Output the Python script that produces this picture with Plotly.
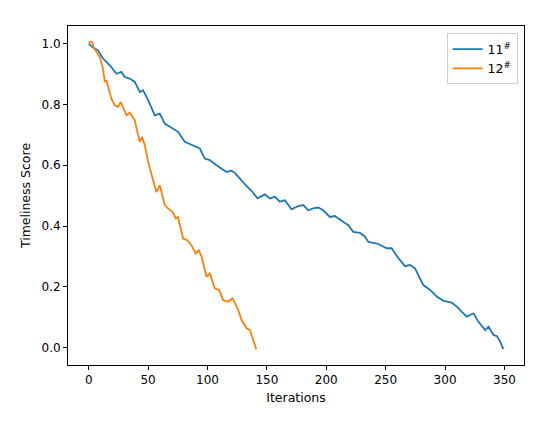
import plotly.graph_objects as go

# Series 11#
x11 = [0, 3.6, 7.8, 12, 14.9, 19, 23.3, 27.5, 30.3, 34.5, 38.8, 43, 45.7, 50, 55.6, 59.8, 64, 71, 75.2,
       80.9, 86.5, 93.5, 97.7, 101.9, 107.6, 111.8, 116, 120.2, 123, 127.3, 132.9, 137.1, 142.1, 148.3,
       152.5, 156.7, 160.9, 165.1, 170.8, 176.4, 180.6, 184.8, 189, 193.2, 197.4, 203, 207.2, 214.2,
       218.5, 222.7, 228.3, 232.6, 235.4, 239.6, 243.8, 250.8, 255, 260.7, 266.3, 270.5, 274.7, 281.7,
       287.4, 293, 298.6, 305.6, 309.9, 314.1, 318.3, 323.9, 328.1, 333.8, 336.6, 340.8, 343.6, 346.4, 349]
y11 = [1.0, 0.987, 0.978, 0.951, 0.94, 0.923, 0.901, 0.907, 0.89, 0.885, 0.874, 0.841, 0.847, 0.814,
       0.764, 0.77, 0.737, 0.721, 0.71, 0.677, 0.666, 0.655, 0.622, 0.617, 0.60, 0.589, 0.578, 0.582,
       0.575, 0.556, 0.531, 0.516, 0.491, 0.504, 0.491, 0.496, 0.48, 0.485, 0.455, 0.466, 0.469, 0.452,
       0.458, 0.461, 0.452, 0.43, 0.433, 0.414, 0.403, 0.381, 0.378, 0.365, 0.348, 0.345, 0.341, 0.327,
       0.327, 0.294, 0.268, 0.272, 0.261, 0.206, 0.19, 0.168, 0.154, 0.148, 0.135, 0.118, 0.102, 0.113,
       0.085, 0.058, 0.069, 0.042, 0.038, 0.02, -0.005]

# Series 12#
x12 = [0, 3, 4.5, 6.5, 9.3, 12, 13.5, 14.9, 18.5, 19, 21.9, 24.7, 27, 28.9, 31.8, 34.5, 36, 38.8, 41.5,
       43, 44.9, 47.2, 50, 52.8, 54.2, 57, 59.8, 62.6, 64, 66.8, 70.5, 73.3, 75.2, 79.4, 82.8, 86.5, 90.1,
       92.7, 95, 99.2, 101.9, 106.1, 109.8, 113.1, 117.4, 121.1, 123, 125.9, 128.7, 132.9, 135.7, 138.5, 141]
y12 = [1.005, 1.005, 0.985, 0.972, 0.956, 0.918, 0.874, 0.88, 0.83, 0.82, 0.797, 0.792, 0.808, 0.792,
       0.764, 0.773, 0.764, 0.748, 0.699, 0.677, 0.693, 0.666, 0.611, 0.567, 0.551, 0.512, 0.534, 0.491,
       0.469, 0.458, 0.447, 0.425, 0.43, 0.359, 0.354, 0.337, 0.31, 0.321, 0.299, 0.233, 0.244, 0.195,
       0.19, 0.157, 0.151, 0.162, 0.146, 0.124, 0.091, 0.064, 0.058, 0.025, -0.005]

series_names = ["11<sup>#</sup>", "12<sup>#</sup>"]
colors = ["#1f77b4", "#ff7f0e"]

fig = go.Figure()
fig.add_trace(go.Scatter(x=x11, y=y11, mode="lines", name=series_names[0],
                         line=dict(color=colors[0], width=1.8)))
fig.add_trace(go.Scatter(x=x12, y=y12, mode="lines", name=series_names[1],
                         line=dict(color=colors[1], width=1.8)))

axis_common = dict(showgrid=False, zeroline=False, showline=True, linecolor="black", linewidth=1,
                   mirror=True, ticks="outside", ticklen=4, tickcolor="black", automargin=False,
                   tickfont=dict(family="DejaVu Sans", size=12, color="black"))

fig.update_layout(
    width=550, height=425,
    margin=dict(l=68, r=26, t=26, b=60, autoexpand=False),
    paper_bgcolor="white", plot_bgcolor="white",
    font=dict(family="DejaVu Sans", size=12, color="black"),
    xaxis=dict(range=[-17.45, 366.45], tickvals=[0, 50, 100, 150, 200, 250, 300, 350],
               title=dict(text="Iterations", font=dict(size=12.5), standoff=6), **axis_common),
    yaxis=dict(range=[-0.057, 1.058], tickvals=[0, 0.2, 0.4, 0.6, 0.8, 1.0], tickformat=".1f",
               title=dict(text="Timeliness Score", font=dict(size=12.5), standoff=8), **axis_common),
    legend=dict(x=0.986, y=0.978, xanchor="right", yanchor="top", bgcolor="white",
                bordercolor="#cccccc", borderwidth=1, font=dict(size=12.5), itemwidth=30,
                tracegroupgap=2),
    showlegend=True,
)

fig.write_html("out.html", config={"displayModeBar": False},
               post_script="document.body.style.margin='0';")
